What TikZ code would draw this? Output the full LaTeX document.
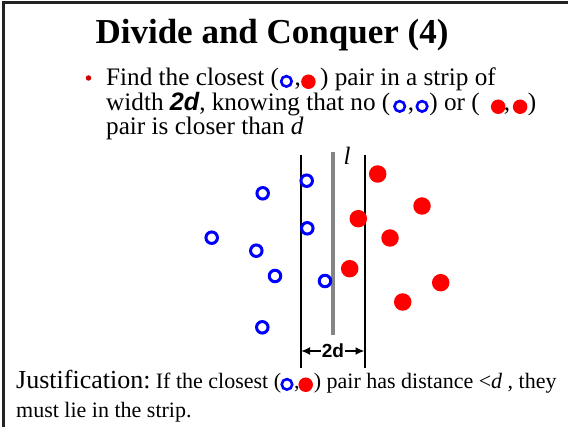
\documentclass[tikz,border=0pt]{standalone}
\usepackage{fontspec}
\setmainfont{Liberation Serif}
\setsansfont{Liberation Sans}
\usepackage{tikz}
\usetikzlibrary{arrows.meta,positioning}
\definecolor{ptblue}{HTML}{0000FF}
\definecolor{ptred}{HTML}{FF0000}
\definecolor{bulletred}{HTML}{CC0000}
\definecolor{midgray}{HTML}{858585}
\definecolor{framegray}{HTML}{222222}
\tikzset{
  ring/.style={circle,draw=ptblue,line width=3pt,minimum size=11.5pt,inner sep=0pt},
  disc/.style={circle,fill=ptred,inner sep=0pt,minimum size=17.5pt},
  small ring/.style={circle,draw=ptblue,line width=2.6pt,minimum size=10.5pt,
    inner sep=0pt,anchor=south west},
  small disc/.style={circle,fill=ptred,inner sep=0pt,minimum size=14.5pt,
    anchor=south west,yshift=-1pt},
  stripline/.style={draw=black,line width=2pt},
  divider/.style={draw=midgray,line width=4pt},
  dimarrow/.style={draw=black,line width=2pt,-{Latex[length=9pt,width=8pt]}},
  headline/.style={inner sep=0pt,anchor=base,font=\fontsize{35}{36}\selectfont\bfseries},
  txt/.style={inner sep=0pt,anchor=base west,font=\fontsize{25.2}{26}\selectfont},
  note/.style={inner sep=0pt,anchor=base west,font=\fontsize{22}{22}\selectfont},
  notehead/.style={inner sep=0pt,anchor=base west,font=\fontsize{26}{26}\selectfont}
}

\begin{document}
\begin{tikzpicture}[x=1pt,y=-1pt]
  \fill[white] (0,0) rectangle (568,427);
  \useasboundingbox (0,0) rectangle (568,427);
  \draw[framegray,line width=3pt] (3,427) -- (3,3) -- (568,3);

  % title and bullet
  \node[headline] (head) at (272,44) {Divide and Conquer (4)};
  \node[circle,fill=bulletred,minimum size=5.5pt,inner sep=0pt] (bul) at (88.5,78) {};

  \node[txt] (f1a) at (106,86) {Find the closest (};
  \node[small ring,xshift=2.5pt] (f1r) at (f1a.base east) {};
  \node[txt,xshift=1.5pt] (f1b) at (f1r.east |- f1a.base) {,};
  \node[small disc,xshift=2pt] (f1d) at (f1b.base east) {};
  \node[txt,xshift=4pt] (f1c) at (f1d.east |- f1a.base) {) pair in a strip of};

  \node[txt] (f2a) at (106,111) {width \textsf{\bfseries\itshape 2d}, knowing that no (};
  \node[small ring,xshift=4.5pt] (f2r) at (f2a.base east) {};
  \node[txt,xshift=1.5pt] (f2b) at (f2r.east |- f2a.base) {,};
  \node[small ring,xshift=3pt] (f2s) at (f2b.base east) {};
  \node[txt,xshift=0.5pt] (f2c) at (f2s.east |- f2a.base) {) or (};
  \node[small disc,xshift=13pt] (f2d) at (f2c.base east) {};
  \node[txt,xshift=-2pt] (f2e) at (f2d.east |- f2a.base) {,};
  \node[small disc,xshift=4.5pt] (f2g) at (f2e.base east) {};
  \node[txt,xshift=0pt] (f2h) at (f2g.east |- f2a.base) {)};

  \node[txt] (f3) at (106,135) {pair is closer than \textit{d}};

  % strip of width 2d
  \coordinate (ltop) at (301,155);
  \coordinate (lbot) at (301,368);
  \coordinate (rtop) at (364.5,155);
  \coordinate (rbot) at (364.5,368);
  \coordinate (mtop) at (333,152);
  \coordinate (mbot) at (333,335);
  \draw[stripline] (ltop) -- (lbot);
  \draw[stripline] (rtop) -- (rbot);
  \draw[divider] (mtop) -- (mbot);
  \node[inner sep=0pt,anchor=base,font=\fontsize{25}{25}\selectfont] (lname) at (347,165) {\textit{l}};

  \node[inner sep=1.2pt,font=\fontsize{19}{19}\selectfont\sffamily\bfseries] (width) at (333,351) {2d};
  \draw[dimarrow] (width.west) -- (width.west -| ltop);
  \draw[dimarrow] (width.east) -- (width.east -| rtop);

  \foreach \x/\y [count=\i] in {306.7/180.7,262.7/193.3,307.3/228.3,211.7/237.7,
      256.3/250.7,275/276,325/281,262.3/327.3}
    \node[ring] (blue\i) at (\x,\y) {};
  \foreach \x/\y [count=\i] in {377.7/174,422/206,358.3/218.7,390/238,
      349.7/268.7,440.7/282.7,402.7/302}
    \node[disc] (red\i) at (\x,\y) {};

  % justification
  \node[notehead] (j1) at (16,389) {Justification:};
  \node[note,xshift=5pt] (j2) at (j1.base east) {If the closest (};
  \node[small ring,xshift=1pt] (jr) at (j2.base east) {};
  \node[note,xshift=0.5pt] (j3) at (jr.east |- j2.base) {,};
  \node[small disc,xshift=0.5pt] (jd) at (j3.base east) {};
  \node[note,xshift=0.5pt] (j4) at (jd.east |- j2.base) {) pair has distance <\textit{d} , they};
  \node[note] (j5) at (16,418) {must lie in the strip.};
\end{tikzpicture}
\end{document}
